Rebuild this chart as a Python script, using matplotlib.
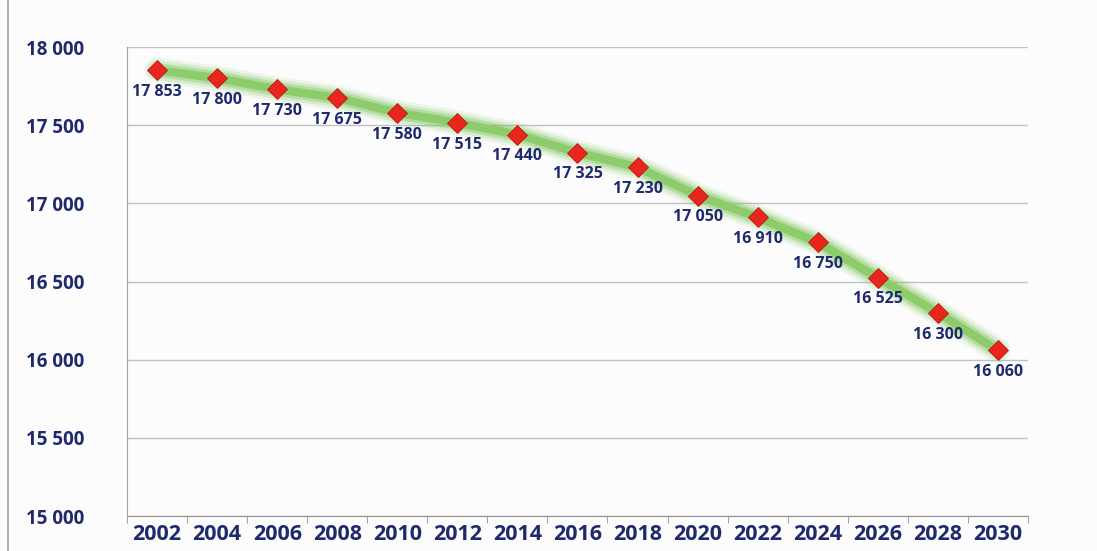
import matplotlib
matplotlib.use("Agg")
import matplotlib.pyplot as plt
from matplotlib.lines import Line2D
import numpy as np

years = ["2002", "2004", "2006", "2008", "2010", "2012", "2014", "2016",
         "2018", "2020", "2022", "2024", "2026", "2028", "2030"]
values = [17853, 17800, 17730, 17675, 17580, 17515, 17440, 17325,
          17230, 17050, 16910, 16750, 16525, 16300, 16060]
labels = ["17 853", "17 800", "17 730", "17 675", "17 580", "17 515", "17 440", "17 325",
          "17 230", "17 050", "16 910", "16 750", "16 525", "16 300", "16 060"]
yticks = [15000, 15500, 16000, 16500, 17000, 17500, 18000]
ytick_labels = ["15 000", "15 500", "16 000", "16 500", "17 000", "17 500", "18 000"]

navy = "#1f2a6e"
plt.rcParams['font.family'] = ['Open Sans', 'DejaVu Sans']

fig = plt.figure(figsize=(10.97, 5.51), dpi=100, facecolor="#fcfcfc")
ax = fig.add_axes([0.1158, 0.0635, 0.8212, 0.8512])
ax.set_facecolor("#fcfcfc")

x = np.arange(len(years))
# glow
for lw, a in [(18, 0.12), (14, 0.2), (10, 0.35)]:
    ax.plot(x, values, color="#7cc45a", lw=lw, alpha=a, solid_capstyle="round", zorder=2)
ax.plot(x, values, color="#8ccc6a", lw=6, zorder=3, solid_capstyle="round")
ax.plot(x, values, ls="none", marker="D", ms=10, mfc="#e8261e", mec="#b81a14", mew=0.6, zorder=4)

for xi, v, lab in zip(x, values, labels):
    ax.annotate(lab, (xi, v), xytext=(0, -10), textcoords="offset points",
                ha="center", va="top", fontsize=11.5, fontweight="bold", color=navy, zorder=5)

ax.set_xlim(-0.5, len(years) - 0.5)
ax.set_ylim(15000, 18000)
ax.set_yticks(yticks)
ax.set_yticklabels(ytick_labels)
ax.set_xticks(x)
ax.set_xticklabels(years)
ax.set_xticks(np.arange(-0.5, len(years), 1.0), minor=True)
ax.tick_params(axis="x", which="major", length=0, pad=6, labelsize=15.5, labelcolor=navy)
ax.tick_params(axis="x", which="minor", length=5, color="#909090", direction="out")
ax.tick_params(axis="y", length=0, pad=31, labelsize=13.5, labelcolor=navy)
for t in ax.get_xticklabels() + ax.get_yticklabels():
    t.set_fontweight("bold")

ax.grid(axis="y", color="#c0c0c8", lw=1)
ax.set_axisbelow(True)
for s in ["top", "right"]:
    ax.spines[s].set_visible(False)
ax.spines["left"].set_color("#a0a0a0")
ax.spines["bottom"].set_color("#909090")

fig.add_artist(Line2D([8 / 1097, 8 / 1097], [0, 1], color="#a0a0a0", lw=1.2))

fig.savefig("out.png", dpi=100, facecolor=fig.get_facecolor())
